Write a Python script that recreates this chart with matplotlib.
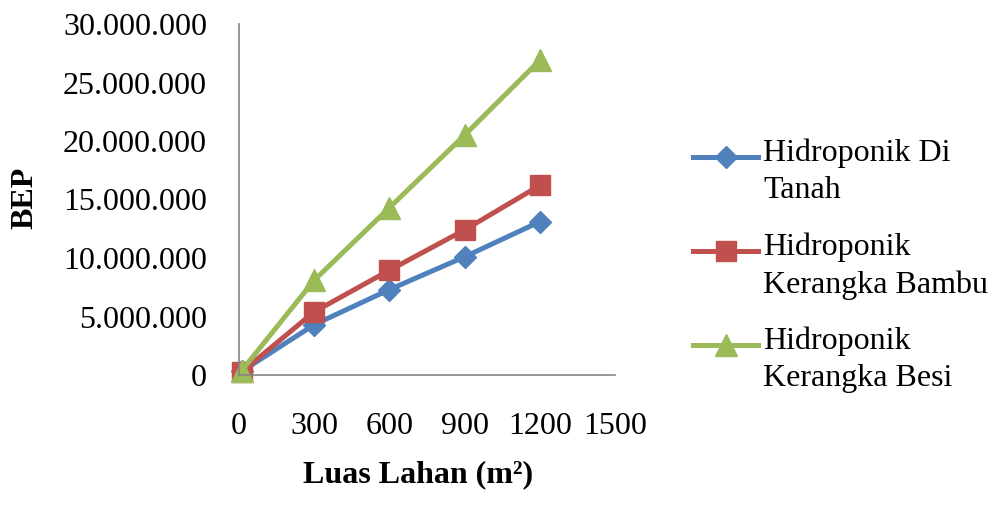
import matplotlib
matplotlib.use("Agg")
import matplotlib.pyplot as plt
from matplotlib.lines import Line2D
from matplotlib.ticker import FuncFormatter, MultipleLocator

plt.rcParams['font.family'] = ['Liberation Serif', 'DejaVu Serif']

# data
luas = [10, 300, 600, 900, 1200]
tanah = [300000, 4300000, 7300000, 10100000, 13100000]
bambu = [250000, 5400000, 8950000, 12400000, 16200000]
besi = [350000, 8100000, 14300000, 20500000, 26900000]

labels = ["Hidroponik Di\nTanah", "Hidroponik\nKerangka Bambu", "Hidroponik\nKerangka Besi"]
colors = ["#4F81BD", "#C0504D", "#9BBB59"]
markers = ["D", "s", "^"]
msizes = [11, 15, 16]

fig = plt.figure(figsize=(9.89, 5.07), dpi=100)
ax = fig.add_axes([239 / 989, 1 - 375 / 507, 376 / 989, 351 / 507])

for ys, c, m, ms in zip([tanah, bambu, besi], colors, markers, msizes):
    ax.plot(luas, ys, color=c, marker=m, markersize=ms, linewidth=3.6, clip_on=False)

ax.set_xlim(0, 1500)
ax.set_ylim(0, 30000000)
ax.xaxis.set_major_locator(MultipleLocator(300))
ax.yaxis.set_major_locator(MultipleLocator(5000000))
ax.yaxis.set_major_formatter(FuncFormatter(lambda v, p: f"{int(v):,}".replace(",", ".")))
ax.tick_params(axis='both', length=0, labelsize=23)
ax.tick_params(axis='x', pad=27)
ax.tick_params(axis='y', pad=23)
for s in ["top", "right"]:
    ax.spines[s].set_visible(False)
for s in ["left", "bottom"]:
    ax.spines[s].set_color("#868686")
    ax.spines[s].set_linewidth(1.2)

fig.text(418 / 989, 1 - 475 / 507, "Luas Lahan (m²)", fontsize=23, fontweight='bold',
         ha='center', va='center')
fig.text(25 / 989, 1 - 198 / 507, "BEP", fontsize=23, fontweight='bold',
         rotation=90, ha='center', va='center')

# legend drawn by hand so the marker sits on the first text line
for i, (lab, c, m, ms) in enumerate(zip(labels, colors, markers, msizes)):
    yc = 1 - (157 + 94 * i) / 507
    fig.add_artist(Line2D([693 / 989, 758 / 989], [yc, yc], color=c, linewidth=3.6,
                          transform=fig.transFigure))
    fig.add_artist(Line2D([725.5 / 989], [yc], color=c, marker=m, markersize=ms,
                          linestyle='none', transform=fig.transFigure))
    fig.text(763 / 989, yc + 19 / 507, lab, fontsize=23, ha='left', va='top',
             linespacing=1.38)

fig.savefig("out.png", dpi=100)
